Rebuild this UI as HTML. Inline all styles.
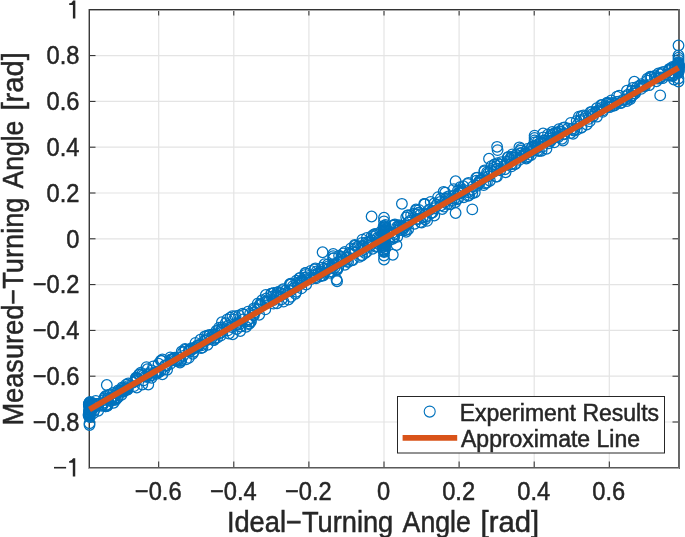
<!DOCTYPE html><html><head><meta charset="utf-8"><style>html,body{margin:0;padding:0;background:#fff;}svg{display:block;will-change:transform}text{font-family:"Liberation Sans",sans-serif;fill:#262626;stroke:#262626;stroke-width:0.5px}</style></head><body><svg width="685" height="537" viewBox="0 0 685 537"><rect width="685" height="537" fill="#fff"/><path d="M158.70 9.5V467.5M233.80 9.5V467.5M308.90 9.5V467.5M384.00 9.5V467.5M459.10 9.5V467.5M534.20 9.5V467.5M609.30 9.5V467.5M89.5 55.60H678.5M89.5 101.40H678.5M89.5 147.20H678.5M89.5 193.00H678.5M89.5 238.80H678.5M89.5 284.60H678.5M89.5 330.40H678.5M89.5 376.20H678.5M89.5 422.00H678.5" stroke="#e4e4e4" stroke-width="1.2" fill="none"/><path d="M158.70 467.5v-6M158.70 9.5v6M233.80 467.5v-6M233.80 9.5v6M308.90 467.5v-6M308.90 9.5v6M384.00 467.5v-6M384.00 9.5v6M459.10 467.5v-6M459.10 9.5v6M534.20 467.5v-6M534.20 9.5v6M609.30 467.5v-6M609.30 9.5v6M89.5 9.80h6M678.5 9.80h-6M89.5 55.60h6M678.5 55.60h-6M89.5 101.40h6M678.5 101.40h-6M89.5 147.20h6M678.5 147.20h-6M89.5 193.00h6M678.5 193.00h-6M89.5 238.80h6M678.5 238.80h-6M89.5 284.60h6M678.5 284.60h-6M89.5 330.40h6M678.5 330.40h-6M89.5 376.20h6M678.5 376.20h-6M89.5 422.00h6M678.5 422.00h-6M89.5 467.80h6M678.5 467.80h-6" stroke="#262626" stroke-width="1" fill="none"/><g shape-rendering="crispEdges"><rect x="89" y="10" width="590" height="1" fill="#aaa"/><rect x="89" y="468" width="591" height="1" fill="#a8a8a8"/><rect x="88" y="9" width="1" height="460" fill="#aaa"/><rect x="679" y="9" width="1" height="460" fill="#6a6a6a"/><rect x="89" y="9" width="590" height="1" fill="#333"/><rect x="89" y="467" width="590" height="1" fill="#5a5a5a"/><rect x="89" y="9" width="1" height="459" fill="#3a3a3a"/><rect x="678" y="9" width="1" height="459" fill="#666"/></g><g fill="none" stroke="#0072BD" stroke-width="1.25"><circle cx="92.3" cy="403.0" r="5.3"/><circle cx="93.2" cy="413.4" r="5.3"/><circle cx="90.3" cy="406.2" r="5.3"/><circle cx="88.5" cy="414.9" r="5.3"/><circle cx="93.3" cy="405.7" r="5.3"/><circle cx="90.3" cy="410.6" r="5.3"/><circle cx="90.0" cy="406.5" r="5.3"/><circle cx="91.5" cy="411.0" r="5.3"/><circle cx="94.5" cy="405.5" r="5.3"/><circle cx="92.2" cy="404.1" r="5.3"/><circle cx="95.8" cy="400.9" r="5.3"/><circle cx="98.2" cy="410.7" r="5.3"/><circle cx="94.7" cy="406.5" r="5.3"/><circle cx="97.3" cy="403.8" r="5.3"/><circle cx="98.3" cy="405.4" r="5.3"/><circle cx="97.5" cy="403.9" r="5.3"/><circle cx="95.7" cy="403.9" r="5.3"/><circle cx="95.7" cy="403.9" r="5.3"/><circle cx="94.5" cy="410.0" r="5.3"/><circle cx="95.4" cy="406.3" r="5.3"/><circle cx="105.8" cy="396.0" r="5.3"/><circle cx="105.6" cy="406.2" r="5.3"/><circle cx="105.0" cy="396.9" r="5.3"/><circle cx="103.7" cy="402.6" r="5.3"/><circle cx="105.7" cy="406.4" r="5.3"/><circle cx="104.1" cy="398.4" r="5.3"/><circle cx="102.8" cy="404.6" r="5.3"/><circle cx="101.4" cy="405.7" r="5.3"/><circle cx="102.8" cy="404.9" r="5.3"/><circle cx="104.0" cy="400.1" r="5.3"/><circle cx="110.3" cy="394.3" r="5.3"/><circle cx="107.4" cy="405.9" r="5.3"/><circle cx="107.9" cy="400.0" r="5.3"/><circle cx="107.1" cy="404.5" r="5.3"/><circle cx="107.8" cy="398.3" r="5.3"/><circle cx="108.3" cy="395.1" r="5.3"/><circle cx="110.5" cy="398.8" r="5.3"/><circle cx="111.6" cy="400.6" r="5.3"/><circle cx="111.9" cy="397.2" r="5.3"/><circle cx="107.4" cy="405.5" r="5.3"/><circle cx="118.1" cy="390.5" r="5.3"/><circle cx="113.6" cy="402.7" r="5.3"/><circle cx="116.3" cy="393.1" r="5.3"/><circle cx="114.8" cy="396.0" r="5.3"/><circle cx="113.9" cy="399.7" r="5.3"/><circle cx="117.8" cy="397.5" r="5.3"/><circle cx="115.8" cy="399.8" r="5.3"/><circle cx="117.0" cy="397.7" r="5.3"/><circle cx="114.7" cy="398.3" r="5.3"/><circle cx="113.2" cy="393.0" r="5.3"/><circle cx="122.4" cy="387.3" r="5.3"/><circle cx="121.6" cy="394.8" r="5.3"/><circle cx="120.6" cy="390.7" r="5.3"/><circle cx="122.6" cy="391.9" r="5.3"/><circle cx="121.6" cy="391.0" r="5.3"/><circle cx="124.0" cy="391.2" r="5.3"/><circle cx="124.1" cy="389.8" r="5.3"/><circle cx="123.0" cy="388.3" r="5.3"/><circle cx="119.3" cy="390.9" r="5.3"/><circle cx="123.4" cy="390.8" r="5.3"/><circle cx="128.3" cy="383.3" r="5.3"/><circle cx="127.6" cy="389.6" r="5.3"/><circle cx="125.9" cy="388.3" r="5.3"/><circle cx="126.7" cy="388.7" r="5.3"/><circle cx="126.6" cy="388.6" r="5.3"/><circle cx="127.9" cy="387.9" r="5.3"/><circle cx="126.1" cy="384.6" r="5.3"/><circle cx="127.2" cy="389.6" r="5.3"/><circle cx="127.6" cy="386.1" r="5.3"/><circle cx="135.9" cy="377.7" r="5.3"/><circle cx="134.0" cy="386.1" r="5.3"/><circle cx="135.8" cy="379.5" r="5.3"/><circle cx="136.0" cy="378.3" r="5.3"/><circle cx="133.1" cy="382.5" r="5.3"/><circle cx="136.2" cy="381.1" r="5.3"/><circle cx="135.3" cy="380.8" r="5.3"/><circle cx="140.8" cy="372.6" r="5.3"/><circle cx="142.3" cy="384.5" r="5.3"/><circle cx="138.9" cy="374.8" r="5.3"/><circle cx="136.8" cy="387.5" r="5.3"/><circle cx="142.0" cy="374.2" r="5.3"/><circle cx="137.2" cy="378.1" r="5.3"/><circle cx="139.4" cy="374.2" r="5.3"/><circle cx="146.5" cy="367.1" r="5.3"/><circle cx="148.3" cy="384.5" r="5.3"/><circle cx="146.3" cy="376.8" r="5.3"/><circle cx="143.6" cy="380.4" r="5.3"/><circle cx="145.0" cy="376.4" r="5.3"/><circle cx="147.4" cy="369.2" r="5.3"/><circle cx="143.2" cy="375.5" r="5.3"/><circle cx="153.3" cy="366.3" r="5.3"/><circle cx="151.6" cy="377.8" r="5.3"/><circle cx="148.8" cy="373.2" r="5.3"/><circle cx="148.6" cy="374.3" r="5.3"/><circle cx="150.0" cy="375.7" r="5.3"/><circle cx="151.9" cy="370.5" r="5.3"/><circle cx="152.0" cy="375.4" r="5.3"/><circle cx="158.6" cy="363.7" r="5.3"/><circle cx="156.4" cy="373.9" r="5.3"/><circle cx="157.7" cy="371.3" r="5.3"/><circle cx="158.4" cy="372.5" r="5.3"/><circle cx="155.6" cy="372.4" r="5.3"/><circle cx="154.7" cy="372.9" r="5.3"/><circle cx="160.3" cy="371.3" r="5.3"/><circle cx="160.8" cy="360.6" r="5.3"/><circle cx="162.4" cy="374.2" r="5.3"/><circle cx="164.3" cy="369.4" r="5.3"/><circle cx="162.4" cy="359.5" r="5.3"/><circle cx="165.3" cy="365.4" r="5.3"/><circle cx="165.1" cy="365.5" r="5.3"/><circle cx="161.7" cy="360.9" r="5.3"/><circle cx="170.3" cy="357.4" r="5.3"/><circle cx="167.1" cy="369.7" r="5.3"/><circle cx="170.3" cy="363.9" r="5.3"/><circle cx="171.3" cy="360.0" r="5.3"/><circle cx="170.8" cy="359.5" r="5.3"/><circle cx="171.9" cy="359.3" r="5.3"/><circle cx="166.7" cy="365.8" r="5.3"/><circle cx="173.8" cy="358.4" r="5.3"/><circle cx="178.2" cy="360.8" r="5.3"/><circle cx="174.0" cy="358.5" r="5.3"/><circle cx="176.4" cy="360.4" r="5.3"/><circle cx="174.8" cy="360.4" r="5.3"/><circle cx="176.5" cy="361.0" r="5.3"/><circle cx="174.8" cy="357.6" r="5.3"/><circle cx="181.7" cy="351.5" r="5.3"/><circle cx="180.0" cy="362.5" r="5.3"/><circle cx="181.2" cy="360.7" r="5.3"/><circle cx="183.0" cy="352.3" r="5.3"/><circle cx="180.3" cy="360.7" r="5.3"/><circle cx="183.1" cy="355.9" r="5.3"/><circle cx="179.3" cy="358.0" r="5.3"/><circle cx="185.0" cy="348.9" r="5.3"/><circle cx="186.1" cy="359.4" r="5.3"/><circle cx="189.5" cy="349.4" r="5.3"/><circle cx="185.6" cy="349.7" r="5.3"/><circle cx="189.8" cy="351.5" r="5.3"/><circle cx="188.8" cy="357.9" r="5.3"/><circle cx="188.9" cy="350.5" r="5.3"/><circle cx="195.5" cy="342.9" r="5.3"/><circle cx="192.7" cy="353.8" r="5.3"/><circle cx="193.6" cy="348.7" r="5.3"/><circle cx="191.6" cy="348.8" r="5.3"/><circle cx="193.7" cy="351.7" r="5.3"/><circle cx="195.9" cy="347.1" r="5.3"/><circle cx="191.6" cy="348.1" r="5.3"/><circle cx="200.4" cy="339.7" r="5.3"/><circle cx="202.5" cy="347.5" r="5.3"/><circle cx="201.6" cy="345.4" r="5.3"/><circle cx="198.9" cy="345.7" r="5.3"/><circle cx="197.6" cy="345.3" r="5.3"/><circle cx="201.0" cy="348.1" r="5.3"/><circle cx="199.2" cy="344.8" r="5.3"/><circle cx="205.0" cy="336.3" r="5.3"/><circle cx="207.6" cy="344.7" r="5.3"/><circle cx="204.8" cy="340.5" r="5.3"/><circle cx="206.8" cy="340.1" r="5.3"/><circle cx="207.5" cy="338.8" r="5.3"/><circle cx="204.8" cy="340.9" r="5.3"/><circle cx="207.1" cy="335.6" r="5.3"/><circle cx="209.4" cy="335.0" r="5.3"/><circle cx="213.5" cy="340.0" r="5.3"/><circle cx="209.2" cy="335.6" r="5.3"/><circle cx="214.4" cy="335.0" r="5.3"/><circle cx="211.9" cy="337.7" r="5.3"/><circle cx="213.0" cy="334.3" r="5.3"/><circle cx="214.0" cy="340.1" r="5.3"/><circle cx="219.1" cy="327.6" r="5.3"/><circle cx="217.3" cy="337.6" r="5.3"/><circle cx="216.4" cy="330.8" r="5.3"/><circle cx="218.8" cy="329.9" r="5.3"/><circle cx="214.8" cy="338.5" r="5.3"/><circle cx="219.8" cy="333.1" r="5.3"/><circle cx="216.0" cy="333.4" r="5.3"/><circle cx="221.9" cy="322.2" r="5.3"/><circle cx="220.7" cy="335.6" r="5.3"/><circle cx="221.2" cy="332.6" r="5.3"/><circle cx="225.7" cy="323.2" r="5.3"/><circle cx="221.6" cy="329.9" r="5.3"/><circle cx="222.1" cy="329.3" r="5.3"/><circle cx="222.2" cy="327.3" r="5.3"/><circle cx="230.3" cy="317.7" r="5.3"/><circle cx="228.9" cy="333.5" r="5.3"/><circle cx="231.7" cy="327.0" r="5.3"/><circle cx="227.3" cy="319.4" r="5.3"/><circle cx="232.4" cy="316.2" r="5.3"/><circle cx="227.9" cy="330.4" r="5.3"/><circle cx="227.7" cy="326.0" r="5.3"/><circle cx="235.5" cy="316.2" r="5.3"/><circle cx="232.7" cy="334.2" r="5.3"/><circle cx="236.1" cy="325.0" r="5.3"/><circle cx="233.9" cy="319.5" r="5.3"/><circle cx="237.8" cy="322.1" r="5.3"/><circle cx="237.5" cy="323.7" r="5.3"/><circle cx="236.7" cy="329.0" r="5.3"/><circle cx="242.6" cy="313.7" r="5.3"/><circle cx="240.3" cy="331.0" r="5.3"/><circle cx="243.0" cy="319.5" r="5.3"/><circle cx="244.0" cy="314.6" r="5.3"/><circle cx="240.5" cy="326.5" r="5.3"/><circle cx="239.4" cy="324.4" r="5.3"/><circle cx="239.0" cy="315.4" r="5.3"/><circle cx="248.0" cy="311.6" r="5.3"/><circle cx="246.2" cy="326.8" r="5.3"/><circle cx="248.7" cy="319.2" r="5.3"/><circle cx="250.2" cy="313.4" r="5.3"/><circle cx="247.0" cy="321.3" r="5.3"/><circle cx="249.5" cy="323.6" r="5.3"/><circle cx="248.5" cy="324.1" r="5.3"/><circle cx="253.8" cy="308.3" r="5.3"/><circle cx="250.9" cy="321.6" r="5.3"/><circle cx="250.6" cy="321.5" r="5.3"/><circle cx="253.3" cy="315.0" r="5.3"/><circle cx="254.8" cy="312.2" r="5.3"/><circle cx="254.9" cy="309.1" r="5.3"/><circle cx="253.9" cy="315.2" r="5.3"/><circle cx="262.1" cy="300.2" r="5.3"/><circle cx="259.2" cy="314.7" r="5.3"/><circle cx="259.8" cy="305.0" r="5.3"/><circle cx="260.1" cy="304.1" r="5.3"/><circle cx="257.7" cy="309.1" r="5.3"/><circle cx="257.7" cy="303.6" r="5.3"/><circle cx="261.0" cy="304.9" r="5.3"/><circle cx="265.8" cy="295.0" r="5.3"/><circle cx="265.3" cy="309.4" r="5.3"/><circle cx="267.4" cy="302.7" r="5.3"/><circle cx="266.4" cy="298.5" r="5.3"/><circle cx="265.8" cy="301.3" r="5.3"/><circle cx="267.0" cy="301.1" r="5.3"/><circle cx="265.3" cy="301.8" r="5.3"/><circle cx="271.5" cy="293.6" r="5.3"/><circle cx="273.5" cy="303.6" r="5.3"/><circle cx="273.6" cy="300.1" r="5.3"/><circle cx="271.2" cy="293.7" r="5.3"/><circle cx="268.7" cy="301.1" r="5.3"/><circle cx="273.7" cy="293.0" r="5.3"/><circle cx="271.8" cy="296.6" r="5.3"/><circle cx="278.6" cy="292.0" r="5.3"/><circle cx="277.0" cy="303.2" r="5.3"/><circle cx="276.3" cy="296.1" r="5.3"/><circle cx="277.1" cy="295.0" r="5.3"/><circle cx="277.2" cy="292.5" r="5.3"/><circle cx="278.0" cy="296.4" r="5.3"/><circle cx="279.8" cy="296.2" r="5.3"/><circle cx="282.1" cy="290.2" r="5.3"/><circle cx="283.5" cy="301.6" r="5.3"/><circle cx="280.9" cy="293.2" r="5.3"/><circle cx="281.7" cy="299.3" r="5.3"/><circle cx="285.5" cy="290.7" r="5.3"/><circle cx="283.3" cy="294.2" r="5.3"/><circle cx="283.2" cy="289.1" r="5.3"/><circle cx="289.8" cy="284.2" r="5.3"/><circle cx="288.4" cy="299.5" r="5.3"/><circle cx="291.1" cy="284.4" r="5.3"/><circle cx="290.9" cy="296.8" r="5.3"/><circle cx="289.2" cy="290.2" r="5.3"/><circle cx="290.6" cy="283.6" r="5.3"/><circle cx="290.4" cy="291.1" r="5.3"/><circle cx="296.3" cy="280.6" r="5.3"/><circle cx="295.4" cy="293.7" r="5.3"/><circle cx="296.3" cy="291.7" r="5.3"/><circle cx="298.3" cy="285.3" r="5.3"/><circle cx="294.3" cy="287.8" r="5.3"/><circle cx="292.9" cy="286.1" r="5.3"/><circle cx="297.1" cy="282.6" r="5.3"/><circle cx="293.7" cy="288.1" r="5.3"/><circle cx="300.4" cy="277.9" r="5.3"/><circle cx="301.4" cy="288.4" r="5.3"/><circle cx="302.4" cy="280.5" r="5.3"/><circle cx="303.1" cy="281.9" r="5.3"/><circle cx="300.6" cy="283.6" r="5.3"/><circle cx="301.1" cy="281.0" r="5.3"/><circle cx="299.4" cy="278.2" r="5.3"/><circle cx="302.3" cy="282.9" r="5.3"/><circle cx="305.3" cy="273.0" r="5.3"/><circle cx="306.2" cy="284.5" r="5.3"/><circle cx="304.7" cy="277.6" r="5.3"/><circle cx="305.5" cy="274.8" r="5.3"/><circle cx="304.6" cy="280.1" r="5.3"/><circle cx="306.1" cy="277.2" r="5.3"/><circle cx="305.6" cy="273.1" r="5.3"/><circle cx="306.9" cy="279.1" r="5.3"/><circle cx="315.4" cy="268.3" r="5.3"/><circle cx="316.0" cy="278.4" r="5.3"/><circle cx="314.5" cy="275.6" r="5.3"/><circle cx="314.5" cy="269.5" r="5.3"/><circle cx="315.1" cy="277.6" r="5.3"/><circle cx="316.2" cy="274.0" r="5.3"/><circle cx="311.2" cy="279.1" r="5.3"/><circle cx="310.7" cy="270.9" r="5.3"/><circle cx="322.0" cy="267.6" r="5.3"/><circle cx="320.2" cy="276.3" r="5.3"/><circle cx="320.6" cy="271.3" r="5.3"/><circle cx="322.2" cy="275.4" r="5.3"/><circle cx="318.5" cy="273.1" r="5.3"/><circle cx="316.6" cy="271.4" r="5.3"/><circle cx="320.7" cy="273.1" r="5.3"/><circle cx="321.6" cy="271.8" r="5.3"/><circle cx="324.5" cy="264.2" r="5.3"/><circle cx="323.3" cy="275.5" r="5.3"/><circle cx="324.3" cy="272.9" r="5.3"/><circle cx="328.1" cy="266.5" r="5.3"/><circle cx="327.9" cy="264.5" r="5.3"/><circle cx="327.6" cy="269.5" r="5.3"/><circle cx="322.5" cy="271.6" r="5.3"/><circle cx="324.0" cy="268.7" r="5.3"/><circle cx="333.3" cy="258.5" r="5.3"/><circle cx="329.8" cy="272.7" r="5.3"/><circle cx="334.1" cy="265.3" r="5.3"/><circle cx="332.7" cy="264.7" r="5.3"/><circle cx="333.4" cy="258.1" r="5.3"/><circle cx="331.6" cy="267.4" r="5.3"/><circle cx="331.8" cy="271.5" r="5.3"/><circle cx="329.0" cy="268.1" r="5.3"/><circle cx="339.1" cy="255.7" r="5.3"/><circle cx="336.4" cy="270.0" r="5.3"/><circle cx="337.2" cy="269.8" r="5.3"/><circle cx="336.3" cy="263.5" r="5.3"/><circle cx="338.3" cy="267.6" r="5.3"/><circle cx="336.8" cy="269.0" r="5.3"/><circle cx="338.7" cy="261.6" r="5.3"/><circle cx="334.7" cy="267.6" r="5.3"/><circle cx="344.8" cy="251.9" r="5.3"/><circle cx="344.9" cy="264.7" r="5.3"/><circle cx="343.3" cy="253.5" r="5.3"/><circle cx="343.2" cy="261.1" r="5.3"/><circle cx="342.3" cy="258.0" r="5.3"/><circle cx="341.8" cy="259.2" r="5.3"/><circle cx="341.5" cy="256.8" r="5.3"/><circle cx="343.3" cy="260.0" r="5.3"/><circle cx="350.9" cy="248.4" r="5.3"/><circle cx="348.1" cy="262.0" r="5.3"/><circle cx="349.5" cy="253.9" r="5.3"/><circle cx="347.2" cy="257.2" r="5.3"/><circle cx="349.3" cy="252.9" r="5.3"/><circle cx="346.9" cy="261.1" r="5.3"/><circle cx="351.7" cy="260.3" r="5.3"/><circle cx="346.5" cy="257.7" r="5.3"/><circle cx="354.7" cy="245.0" r="5.3"/><circle cx="352.9" cy="260.1" r="5.3"/><circle cx="357.4" cy="246.9" r="5.3"/><circle cx="355.2" cy="245.6" r="5.3"/><circle cx="354.4" cy="248.9" r="5.3"/><circle cx="354.9" cy="252.7" r="5.3"/><circle cx="353.0" cy="251.5" r="5.3"/><circle cx="358.2" cy="246.2" r="5.3"/><circle cx="362.4" cy="239.6" r="5.3"/><circle cx="361.9" cy="255.1" r="5.3"/><circle cx="362.0" cy="246.0" r="5.3"/><circle cx="361.8" cy="250.8" r="5.3"/><circle cx="362.0" cy="242.9" r="5.3"/><circle cx="359.5" cy="256.9" r="5.3"/><circle cx="363.4" cy="246.2" r="5.3"/><circle cx="361.8" cy="255.6" r="5.3"/><circle cx="366.9" cy="237.8" r="5.3"/><circle cx="366.7" cy="251.9" r="5.3"/><circle cx="368.6" cy="241.8" r="5.3"/><circle cx="365.1" cy="253.0" r="5.3"/><circle cx="370.0" cy="245.9" r="5.3"/><circle cx="366.0" cy="242.5" r="5.3"/><circle cx="369.6" cy="242.5" r="5.3"/><circle cx="364.8" cy="248.9" r="5.3"/><circle cx="371.7" cy="236.1" r="5.3"/><circle cx="376.0" cy="246.7" r="5.3"/><circle cx="371.5" cy="240.3" r="5.3"/><circle cx="373.6" cy="234.7" r="5.3"/><circle cx="373.1" cy="242.7" r="5.3"/><circle cx="372.6" cy="248.7" r="5.3"/><circle cx="375.0" cy="233.9" r="5.3"/><circle cx="375.3" cy="235.8" r="5.3"/><circle cx="381.2" cy="231.4" r="5.3"/><circle cx="381.7" cy="243.7" r="5.3"/><circle cx="379.2" cy="239.9" r="5.3"/><circle cx="379.5" cy="237.5" r="5.3"/><circle cx="377.3" cy="238.0" r="5.3"/><circle cx="376.8" cy="234.2" r="5.3"/><circle cx="377.3" cy="246.3" r="5.3"/><circle cx="378.6" cy="244.0" r="5.3"/><circle cx="384.2" cy="230.4" r="5.3"/><circle cx="384.5" cy="242.3" r="5.3"/><circle cx="384.0" cy="235.7" r="5.3"/><circle cx="387.0" cy="233.4" r="5.3"/><circle cx="387.8" cy="230.7" r="5.3"/><circle cx="384.4" cy="242.7" r="5.3"/><circle cx="384.0" cy="235.9" r="5.3"/><circle cx="385.1" cy="238.6" r="5.3"/><circle cx="394.1" cy="224.8" r="5.3"/><circle cx="392.8" cy="238.7" r="5.3"/><circle cx="389.3" cy="240.2" r="5.3"/><circle cx="392.7" cy="232.6" r="5.3"/><circle cx="393.9" cy="237.3" r="5.3"/><circle cx="389.1" cy="231.8" r="5.3"/><circle cx="394.1" cy="234.0" r="5.3"/><circle cx="394.0" cy="236.9" r="5.3"/><circle cx="394.9" cy="224.4" r="5.3"/><circle cx="397.3" cy="236.7" r="5.3"/><circle cx="398.9" cy="225.2" r="5.3"/><circle cx="400.5" cy="226.5" r="5.3"/><circle cx="399.4" cy="226.0" r="5.3"/><circle cx="399.2" cy="230.0" r="5.3"/><circle cx="400.5" cy="227.2" r="5.3"/><circle cx="397.2" cy="226.8" r="5.3"/><circle cx="406.2" cy="217.3" r="5.3"/><circle cx="406.1" cy="231.7" r="5.3"/><circle cx="402.7" cy="226.3" r="5.3"/><circle cx="403.3" cy="229.1" r="5.3"/><circle cx="402.8" cy="227.9" r="5.3"/><circle cx="401.3" cy="230.0" r="5.3"/><circle cx="405.0" cy="230.4" r="5.3"/><circle cx="404.5" cy="227.1" r="5.3"/><circle cx="407.9" cy="215.3" r="5.3"/><circle cx="408.2" cy="229.3" r="5.3"/><circle cx="411.1" cy="214.9" r="5.3"/><circle cx="408.4" cy="222.5" r="5.3"/><circle cx="407.6" cy="215.5" r="5.3"/><circle cx="410.7" cy="220.4" r="5.3"/><circle cx="408.3" cy="222.5" r="5.3"/><circle cx="406.7" cy="225.4" r="5.3"/><circle cx="416.0" cy="209.5" r="5.3"/><circle cx="414.6" cy="223.8" r="5.3"/><circle cx="416.0" cy="214.4" r="5.3"/><circle cx="416.7" cy="219.0" r="5.3"/><circle cx="418.3" cy="213.0" r="5.3"/><circle cx="414.0" cy="213.6" r="5.3"/><circle cx="418.4" cy="213.0" r="5.3"/><circle cx="416.1" cy="210.5" r="5.3"/><circle cx="424.2" cy="204.0" r="5.3"/><circle cx="421.6" cy="222.6" r="5.3"/><circle cx="422.7" cy="217.5" r="5.3"/><circle cx="420.5" cy="214.4" r="5.3"/><circle cx="418.7" cy="219.0" r="5.3"/><circle cx="419.0" cy="209.9" r="5.3"/><circle cx="420.5" cy="222.0" r="5.3"/><circle cx="424.7" cy="204.3" r="5.3"/><circle cx="427.1" cy="220.9" r="5.3"/><circle cx="428.8" cy="209.9" r="5.3"/><circle cx="426.0" cy="216.5" r="5.3"/><circle cx="429.9" cy="209.7" r="5.3"/><circle cx="425.1" cy="219.3" r="5.3"/><circle cx="424.7" cy="203.9" r="5.3"/><circle cx="430.7" cy="201.9" r="5.3"/><circle cx="434.3" cy="215.5" r="5.3"/><circle cx="431.4" cy="213.0" r="5.3"/><circle cx="432.5" cy="212.6" r="5.3"/><circle cx="431.0" cy="213.1" r="5.3"/><circle cx="434.6" cy="208.2" r="5.3"/><circle cx="434.2" cy="203.5" r="5.3"/><circle cx="438.1" cy="197.1" r="5.3"/><circle cx="442.2" cy="209.0" r="5.3"/><circle cx="440.3" cy="201.8" r="5.3"/><circle cx="436.6" cy="204.6" r="5.3"/><circle cx="436.9" cy="204.9" r="5.3"/><circle cx="440.7" cy="198.6" r="5.3"/><circle cx="441.2" cy="205.3" r="5.3"/><circle cx="443.6" cy="191.8" r="5.3"/><circle cx="447.6" cy="204.0" r="5.3"/><circle cx="444.0" cy="206.6" r="5.3"/><circle cx="444.9" cy="201.7" r="5.3"/><circle cx="445.5" cy="198.6" r="5.3"/><circle cx="445.2" cy="192.7" r="5.3"/><circle cx="446.8" cy="197.2" r="5.3"/><circle cx="453.7" cy="189.1" r="5.3"/><circle cx="450.4" cy="204.3" r="5.3"/><circle cx="454.1" cy="195.5" r="5.3"/><circle cx="449.1" cy="196.2" r="5.3"/><circle cx="454.4" cy="198.7" r="5.3"/><circle cx="448.8" cy="199.0" r="5.3"/><circle cx="451.5" cy="200.9" r="5.3"/><circle cx="460.2" cy="187.2" r="5.3"/><circle cx="455.2" cy="202.2" r="5.3"/><circle cx="456.9" cy="199.3" r="5.3"/><circle cx="458.2" cy="198.5" r="5.3"/><circle cx="458.0" cy="190.4" r="5.3"/><circle cx="459.4" cy="193.2" r="5.3"/><circle cx="458.7" cy="192.7" r="5.3"/><circle cx="463.3" cy="186.2" r="5.3"/><circle cx="463.7" cy="197.3" r="5.3"/><circle cx="463.1" cy="189.6" r="5.3"/><circle cx="460.8" cy="193.0" r="5.3"/><circle cx="460.6" cy="191.6" r="5.3"/><circle cx="462.8" cy="192.1" r="5.3"/><circle cx="462.3" cy="190.8" r="5.3"/><circle cx="467.5" cy="183.9" r="5.3"/><circle cx="472.3" cy="193.2" r="5.3"/><circle cx="469.3" cy="195.1" r="5.3"/><circle cx="468.2" cy="192.3" r="5.3"/><circle cx="468.2" cy="195.7" r="5.3"/><circle cx="468.5" cy="182.8" r="5.3"/><circle cx="472.1" cy="189.6" r="5.3"/><circle cx="477.3" cy="177.6" r="5.3"/><circle cx="474.8" cy="192.5" r="5.3"/><circle cx="472.9" cy="186.5" r="5.3"/><circle cx="476.2" cy="178.0" r="5.3"/><circle cx="476.5" cy="180.6" r="5.3"/><circle cx="478.4" cy="182.7" r="5.3"/><circle cx="477.3" cy="185.7" r="5.3"/><circle cx="484.3" cy="171.4" r="5.3"/><circle cx="483.7" cy="185.1" r="5.3"/><circle cx="482.2" cy="178.9" r="5.3"/><circle cx="479.7" cy="180.4" r="5.3"/><circle cx="480.2" cy="180.7" r="5.3"/><circle cx="479.3" cy="183.5" r="5.3"/><circle cx="484.0" cy="177.1" r="5.3"/><circle cx="484.6" cy="170.3" r="5.3"/><circle cx="485.3" cy="183.4" r="5.3"/><circle cx="488.0" cy="173.5" r="5.3"/><circle cx="487.1" cy="172.3" r="5.3"/><circle cx="488.5" cy="176.3" r="5.3"/><circle cx="486.9" cy="182.5" r="5.3"/><circle cx="489.9" cy="180.8" r="5.3"/><circle cx="494.8" cy="164.4" r="5.3"/><circle cx="495.9" cy="176.6" r="5.3"/><circle cx="493.5" cy="171.8" r="5.3"/><circle cx="494.5" cy="164.4" r="5.3"/><circle cx="491.3" cy="166.2" r="5.3"/><circle cx="490.7" cy="170.5" r="5.3"/><circle cx="496.3" cy="169.2" r="5.3"/><circle cx="497.5" cy="163.1" r="5.3"/><circle cx="497.0" cy="176.5" r="5.3"/><circle cx="500.1" cy="164.5" r="5.3"/><circle cx="497.2" cy="165.8" r="5.3"/><circle cx="501.3" cy="162.2" r="5.3"/><circle cx="497.3" cy="168.6" r="5.3"/><circle cx="500.3" cy="170.3" r="5.3"/><circle cx="507.7" cy="157.5" r="5.3"/><circle cx="505.6" cy="172.2" r="5.3"/><circle cx="505.9" cy="164.2" r="5.3"/><circle cx="506.9" cy="164.5" r="5.3"/><circle cx="508.5" cy="156.8" r="5.3"/><circle cx="505.0" cy="169.2" r="5.3"/><circle cx="507.2" cy="161.3" r="5.3"/><circle cx="512.3" cy="154.4" r="5.3"/><circle cx="511.6" cy="166.4" r="5.3"/><circle cx="511.3" cy="156.9" r="5.3"/><circle cx="510.2" cy="160.0" r="5.3"/><circle cx="510.4" cy="158.4" r="5.3"/><circle cx="511.0" cy="164.2" r="5.3"/><circle cx="514.2" cy="157.8" r="5.3"/><circle cx="520.5" cy="150.7" r="5.3"/><circle cx="514.9" cy="164.0" r="5.3"/><circle cx="514.8" cy="157.1" r="5.3"/><circle cx="515.6" cy="163.9" r="5.3"/><circle cx="516.3" cy="154.6" r="5.3"/><circle cx="519.4" cy="159.9" r="5.3"/><circle cx="516.5" cy="155.1" r="5.3"/><circle cx="520.5" cy="153.4" r="5.3"/><circle cx="526.3" cy="158.5" r="5.3"/><circle cx="525.7" cy="153.8" r="5.3"/><circle cx="522.3" cy="156.9" r="5.3"/><circle cx="522.2" cy="156.0" r="5.3"/><circle cx="521.0" cy="152.9" r="5.3"/><circle cx="525.0" cy="153.2" r="5.3"/><circle cx="527.4" cy="148.9" r="5.3"/><circle cx="528.3" cy="156.4" r="5.3"/><circle cx="531.0" cy="151.7" r="5.3"/><circle cx="526.9" cy="157.5" r="5.3"/><circle cx="532.4" cy="146.4" r="5.3"/><circle cx="531.1" cy="155.0" r="5.3"/><circle cx="531.7" cy="147.5" r="5.3"/><circle cx="537.8" cy="141.6" r="5.3"/><circle cx="537.7" cy="150.4" r="5.3"/><circle cx="536.8" cy="148.3" r="5.3"/><circle cx="534.1" cy="146.8" r="5.3"/><circle cx="536.0" cy="146.7" r="5.3"/><circle cx="538.1" cy="145.2" r="5.3"/><circle cx="533.7" cy="149.2" r="5.3"/><circle cx="543.4" cy="137.3" r="5.3"/><circle cx="541.6" cy="150.7" r="5.3"/><circle cx="542.4" cy="146.9" r="5.3"/><circle cx="539.0" cy="151.0" r="5.3"/><circle cx="543.8" cy="140.5" r="5.3"/><circle cx="538.8" cy="143.7" r="5.3"/><circle cx="540.8" cy="142.4" r="5.3"/><circle cx="548.0" cy="134.4" r="5.3"/><circle cx="546.5" cy="148.7" r="5.3"/><circle cx="548.2" cy="140.7" r="5.3"/><circle cx="548.7" cy="143.2" r="5.3"/><circle cx="549.4" cy="137.1" r="5.3"/><circle cx="550.3" cy="141.0" r="5.3"/><circle cx="545.3" cy="140.5" r="5.3"/><circle cx="552.3" cy="132.0" r="5.3"/><circle cx="554.2" cy="142.4" r="5.3"/><circle cx="551.0" cy="140.5" r="5.3"/><circle cx="550.9" cy="134.7" r="5.3"/><circle cx="555.8" cy="132.3" r="5.3"/><circle cx="551.3" cy="138.5" r="5.3"/><circle cx="553.4" cy="134.0" r="5.3"/><circle cx="558.9" cy="129.2" r="5.3"/><circle cx="562.0" cy="138.8" r="5.3"/><circle cx="557.5" cy="132.9" r="5.3"/><circle cx="559.5" cy="131.4" r="5.3"/><circle cx="557.0" cy="136.2" r="5.3"/><circle cx="562.0" cy="131.9" r="5.3"/><circle cx="558.1" cy="137.2" r="5.3"/><circle cx="564.4" cy="127.5" r="5.3"/><circle cx="563.0" cy="140.5" r="5.3"/><circle cx="563.0" cy="127.9" r="5.3"/><circle cx="564.3" cy="134.3" r="5.3"/><circle cx="567.9" cy="128.5" r="5.3"/><circle cx="564.0" cy="133.7" r="5.3"/><circle cx="570.8" cy="122.9" r="5.3"/><circle cx="573.1" cy="133.8" r="5.3"/><circle cx="572.7" cy="128.5" r="5.3"/><circle cx="574.3" cy="130.0" r="5.3"/><circle cx="573.7" cy="130.5" r="5.3"/><circle cx="570.7" cy="133.0" r="5.3"/><circle cx="578.9" cy="116.6" r="5.3"/><circle cx="576.8" cy="129.9" r="5.3"/><circle cx="577.9" cy="124.2" r="5.3"/><circle cx="580.2" cy="120.8" r="5.3"/><circle cx="580.5" cy="119.8" r="5.3"/><circle cx="576.7" cy="120.9" r="5.3"/><circle cx="581.3" cy="116.2" r="5.3"/><circle cx="581.6" cy="127.4" r="5.3"/><circle cx="585.8" cy="116.2" r="5.3"/><circle cx="584.5" cy="118.9" r="5.3"/><circle cx="581.1" cy="127.7" r="5.3"/><circle cx="583.5" cy="115.3" r="5.3"/><circle cx="590.4" cy="112.2" r="5.3"/><circle cx="586.8" cy="124.5" r="5.3"/><circle cx="591.9" cy="111.8" r="5.3"/><circle cx="589.7" cy="121.4" r="5.3"/><circle cx="592.1" cy="114.2" r="5.3"/><circle cx="589.0" cy="118.9" r="5.3"/><circle cx="596.8" cy="108.2" r="5.3"/><circle cx="596.9" cy="116.7" r="5.3"/><circle cx="593.0" cy="116.3" r="5.3"/><circle cx="598.3" cy="111.1" r="5.3"/><circle cx="597.1" cy="111.1" r="5.3"/><circle cx="595.3" cy="112.2" r="5.3"/><circle cx="602.2" cy="105.0" r="5.3"/><circle cx="602.6" cy="111.9" r="5.3"/><circle cx="602.8" cy="110.4" r="5.3"/><circle cx="601.0" cy="105.2" r="5.3"/><circle cx="601.5" cy="107.8" r="5.3"/><circle cx="600.0" cy="110.1" r="5.3"/><circle cx="607.1" cy="102.6" r="5.3"/><circle cx="609.5" cy="107.2" r="5.3"/><circle cx="606.6" cy="103.7" r="5.3"/><circle cx="609.9" cy="104.9" r="5.3"/><circle cx="607.8" cy="106.8" r="5.3"/><circle cx="608.4" cy="103.2" r="5.3"/><circle cx="611.3" cy="100.4" r="5.3"/><circle cx="614.5" cy="105.1" r="5.3"/><circle cx="614.3" cy="105.6" r="5.3"/><circle cx="612.5" cy="105.9" r="5.3"/><circle cx="612.1" cy="102.9" r="5.3"/><circle cx="614.6" cy="103.6" r="5.3"/><circle cx="616.9" cy="96.6" r="5.3"/><circle cx="621.4" cy="102.7" r="5.3"/><circle cx="618.4" cy="101.6" r="5.3"/><circle cx="617.0" cy="101.9" r="5.3"/><circle cx="620.0" cy="103.2" r="5.3"/><circle cx="619.2" cy="95.6" r="5.3"/><circle cx="626.9" cy="90.7" r="5.3"/><circle cx="627.0" cy="101.0" r="5.3"/><circle cx="623.0" cy="99.9" r="5.3"/><circle cx="626.2" cy="99.3" r="5.3"/><circle cx="627.8" cy="94.7" r="5.3"/><circle cx="627.1" cy="96.2" r="5.3"/><circle cx="632.7" cy="87.8" r="5.3"/><circle cx="630.4" cy="99.0" r="5.3"/><circle cx="631.7" cy="90.7" r="5.3"/><circle cx="632.3" cy="95.5" r="5.3"/><circle cx="630.8" cy="96.2" r="5.3"/><circle cx="630.6" cy="97.3" r="5.3"/><circle cx="637.3" cy="86.8" r="5.3"/><circle cx="634.6" cy="93.5" r="5.3"/><circle cx="635.8" cy="90.5" r="5.3"/><circle cx="634.9" cy="91.2" r="5.3"/><circle cx="639.9" cy="85.6" r="5.3"/><circle cx="635.1" cy="93.4" r="5.3"/><circle cx="641.3" cy="84.2" r="5.3"/><circle cx="641.2" cy="88.9" r="5.3"/><circle cx="643.5" cy="86.2" r="5.3"/><circle cx="642.4" cy="86.6" r="5.3"/><circle cx="644.8" cy="86.4" r="5.3"/><circle cx="642.7" cy="85.3" r="5.3"/><circle cx="647.3" cy="78.6" r="5.3"/><circle cx="649.1" cy="85.2" r="5.3"/><circle cx="651.4" cy="77.0" r="5.3"/><circle cx="647.3" cy="80.7" r="5.3"/><circle cx="651.4" cy="77.1" r="5.3"/><circle cx="650.2" cy="76.7" r="5.3"/><circle cx="658.4" cy="73.5" r="5.3"/><circle cx="656.4" cy="81.3" r="5.3"/><circle cx="654.7" cy="75.8" r="5.3"/><circle cx="658.1" cy="78.7" r="5.3"/><circle cx="654.9" cy="78.1" r="5.3"/><circle cx="656.7" cy="77.0" r="5.3"/><circle cx="663.3" cy="71.8" r="5.3"/><circle cx="662.5" cy="78.2" r="5.3"/><circle cx="661.3" cy="74.2" r="5.3"/><circle cx="660.9" cy="77.3" r="5.3"/><circle cx="659.6" cy="78.1" r="5.3"/><circle cx="661.3" cy="72.8" r="5.3"/><circle cx="669.3" cy="69.3" r="5.3"/><circle cx="670.2" cy="75.7" r="5.3"/><circle cx="668.4" cy="75.0" r="5.3"/><circle cx="669.4" cy="68.9" r="5.3"/><circle cx="669.0" cy="70.5" r="5.3"/><circle cx="669.5" cy="75.4" r="5.3"/><circle cx="674.5" cy="66.8" r="5.3"/><circle cx="672.5" cy="75.3" r="5.3"/><circle cx="671.4" cy="68.3" r="5.3"/><circle cx="672.7" cy="73.0" r="5.3"/><circle cx="675.6" cy="67.8" r="5.3"/><circle cx="674.6" cy="73.9" r="5.3"/><circle cx="90.0" cy="402.0" r="5.3"/><circle cx="89.5" cy="402.6" r="5.3"/><circle cx="89.1" cy="403.1" r="5.3"/><circle cx="89.4" cy="403.7" r="5.3"/><circle cx="88.8" cy="404.2" r="5.3"/><circle cx="89.0" cy="404.8" r="5.3"/><circle cx="89.5" cy="405.3" r="5.3"/><circle cx="89.2" cy="405.9" r="5.3"/><circle cx="89.5" cy="406.4" r="5.3"/><circle cx="89.5" cy="407.0" r="5.3"/><circle cx="90.1" cy="407.6" r="5.3"/><circle cx="89.9" cy="408.1" r="5.3"/><circle cx="89.5" cy="408.7" r="5.3"/><circle cx="89.9" cy="409.2" r="5.3"/><circle cx="89.3" cy="409.8" r="5.3"/><circle cx="89.4" cy="410.3" r="5.3"/><circle cx="89.8" cy="410.9" r="5.3"/><circle cx="89.1" cy="411.4" r="5.3"/><circle cx="89.4" cy="412.0" r="5.3"/><circle cx="89.1" cy="412.6" r="5.3"/><circle cx="89.5" cy="413.1" r="5.3"/><circle cx="90.0" cy="413.7" r="5.3"/><circle cx="89.3" cy="414.2" r="5.3"/><circle cx="89.6" cy="414.8" r="5.3"/><circle cx="89.2" cy="415.3" r="5.3"/><circle cx="89.2" cy="415.9" r="5.3"/><circle cx="89.1" cy="416.4" r="5.3"/><circle cx="89.9" cy="417.0" r="5.3"/><circle cx="89.5" cy="423.3" r="5.3"/><circle cx="89.5" cy="425.0" r="5.3"/><circle cx="384.0" cy="217.7" r="5.3"/><circle cx="384.0" cy="221.3" r="5.3"/><circle cx="385.4" cy="225.0" r="5.3"/><circle cx="384.3" cy="225.8" r="5.3"/><circle cx="383.6" cy="226.5" r="5.3"/><circle cx="384.4" cy="227.3" r="5.3"/><circle cx="383.8" cy="228.1" r="5.3"/><circle cx="384.5" cy="228.9" r="5.3"/><circle cx="384.2" cy="229.6" r="5.3"/><circle cx="384.2" cy="230.4" r="5.3"/><circle cx="384.4" cy="231.2" r="5.3"/><circle cx="383.7" cy="231.9" r="5.3"/><circle cx="383.8" cy="232.7" r="5.3"/><circle cx="383.0" cy="233.5" r="5.3"/><circle cx="383.7" cy="234.3" r="5.3"/><circle cx="383.1" cy="235.0" r="5.3"/><circle cx="383.9" cy="235.8" r="5.3"/><circle cx="383.4" cy="236.6" r="5.3"/><circle cx="384.1" cy="237.3" r="5.3"/><circle cx="384.3" cy="238.1" r="5.3"/><circle cx="383.1" cy="238.9" r="5.3"/><circle cx="383.5" cy="239.7" r="5.3"/><circle cx="383.4" cy="240.4" r="5.3"/><circle cx="384.4" cy="241.2" r="5.3"/><circle cx="385.0" cy="242.0" r="5.3"/><circle cx="384.5" cy="242.7" r="5.3"/><circle cx="383.8" cy="243.5" r="5.3"/><circle cx="384.9" cy="244.3" r="5.3"/><circle cx="383.1" cy="245.1" r="5.3"/><circle cx="384.9" cy="245.8" r="5.3"/><circle cx="383.6" cy="246.6" r="5.3"/><circle cx="382.3" cy="247.4" r="5.3"/><circle cx="385.6" cy="248.1" r="5.3"/><circle cx="384.9" cy="248.9" r="5.3"/><circle cx="383.4" cy="249.7" r="5.3"/><circle cx="384.1" cy="250.5" r="5.3"/><circle cx="383.9" cy="251.2" r="5.3"/><circle cx="384.1" cy="252.0" r="5.3"/><circle cx="384.0" cy="255.5" r="5.3"/><circle cx="384.0" cy="259.5" r="5.3"/><circle cx="678.5" cy="45.5" r="5.3"/><circle cx="678.5" cy="55.5" r="5.3"/><circle cx="678.5" cy="57.7" r="5.3"/><circle cx="678.5" cy="59.9" r="5.3"/><circle cx="678.5" cy="62.1" r="5.3"/><circle cx="678.1" cy="63.0" r="5.3"/><circle cx="678.3" cy="63.6" r="5.3"/><circle cx="678.6" cy="64.2" r="5.3"/><circle cx="678.6" cy="64.8" r="5.3"/><circle cx="678.9" cy="65.4" r="5.3"/><circle cx="678.5" cy="65.9" r="5.3"/><circle cx="679.2" cy="66.5" r="5.3"/><circle cx="678.3" cy="67.1" r="5.3"/><circle cx="678.6" cy="67.7" r="5.3"/><circle cx="677.9" cy="68.3" r="5.3"/><circle cx="678.1" cy="68.9" r="5.3"/><circle cx="678.9" cy="69.5" r="5.3"/><circle cx="678.2" cy="70.1" r="5.3"/><circle cx="678.7" cy="70.6" r="5.3"/><circle cx="678.5" cy="71.2" r="5.3"/><circle cx="678.2" cy="71.8" r="5.3"/><circle cx="678.4" cy="72.4" r="5.3"/><circle cx="678.3" cy="73.0" r="5.3"/><circle cx="678.5" cy="78.5" r="5.3"/><circle cx="678.5" cy="81.5" r="5.3"/><circle cx="106.8" cy="385.0" r="5.3"/><circle cx="322.6" cy="252.2" r="5.3"/><circle cx="371.6" cy="216.5" r="5.3"/><circle cx="393.5" cy="225.6" r="5.3"/><circle cx="396.5" cy="245.0" r="5.3"/><circle cx="392.8" cy="254.7" r="5.3"/><circle cx="401.9" cy="203.8" r="5.3"/><circle cx="472.3" cy="209.4" r="5.3"/><circle cx="455.6" cy="181.2" r="5.3"/><circle cx="455.6" cy="213.0" r="5.3"/><circle cx="489.0" cy="158.7" r="5.3"/><circle cx="634.3" cy="81.7" r="5.3"/><circle cx="660.2" cy="95.4" r="5.3"/><circle cx="337.1" cy="281.2" r="5.3"/><circle cx="336.5" cy="279.5" r="5.3"/><circle cx="333.2" cy="254.0" r="5.3"/><circle cx="333.2" cy="256.2" r="5.3"/><circle cx="497.1" cy="146.8" r="5.3"/><circle cx="497.6" cy="150.1" r="5.3"/><circle cx="519.4" cy="147.3" r="5.3"/><circle cx="520.8" cy="149.0" r="5.3"/><circle cx="534.6" cy="135.6" r="5.3"/><circle cx="534.6" cy="138.0" r="5.3"/><circle cx="534.6" cy="140.4" r="5.3"/><circle cx="534.6" cy="142.3" r="5.3"/><circle cx="543.1" cy="133.5" r="5.3"/><circle cx="672.5" cy="67.0" r="5.3"/><circle cx="671.5" cy="73.0" r="5.3"/><circle cx="674.0" cy="79.5" r="5.3"/><circle cx="673.0" cy="76.0" r="5.3"/><circle cx="676.0" cy="70.0" r="5.3"/></g><line x1="89.5" y1="409.5" x2="678.5" y2="67.7" stroke="#D95319" stroke-width="5.8"/><text transform="translate(158.20 499.8) scale(0.91,1)" font-size="26" text-anchor="middle">−0.6</text><text transform="translate(233.30 499.8) scale(0.91,1)" font-size="26" text-anchor="middle">−0.4</text><text transform="translate(308.40 499.8) scale(0.91,1)" font-size="26" text-anchor="middle">−0.2</text><text transform="translate(383.50 499.8) scale(0.91,1)" font-size="26" text-anchor="middle">0</text><text transform="translate(458.60 499.8) scale(0.91,1)" font-size="26" text-anchor="middle">0.2</text><text transform="translate(533.70 499.8) scale(0.91,1)" font-size="26" text-anchor="middle">0.4</text><text transform="translate(608.80 499.8) scale(0.91,1)" font-size="26" text-anchor="middle">0.6</text><path d="M72.9 18.6L72.9 4.9L69.2 4.9L69.2 3.3Q72.0 3.2 73.2 0.4L75.35 0.4L75.35 18.6Z" fill="#262626"/><path d="M72.9 18.6L72.9 4.9L69.2 4.9L69.2 3.3Q72.0 3.2 73.2 0.4L75.35 0.4L75.35 18.6Z" fill="#262626" transform="translate(-0.1 457.9)"/><rect x="54" y="466.9" width="12.1" height="1.6" fill="#262626"/><text transform="translate(79.4 64.40) scale(0.91,1)" font-size="26" text-anchor="end">0.8</text><text transform="translate(79.4 110.20) scale(0.91,1)" font-size="26" text-anchor="end">0.6</text><text transform="translate(79.4 156.00) scale(0.91,1)" font-size="26" text-anchor="end">0.4</text><text transform="translate(79.4 201.80) scale(0.91,1)" font-size="26" text-anchor="end">0.2</text><text transform="translate(79.4 247.60) scale(0.91,1)" font-size="26" text-anchor="end">0</text><text transform="translate(79.4 293.40) scale(0.91,1)" font-size="26" text-anchor="end">−0.2</text><text transform="translate(79.4 339.20) scale(0.91,1)" font-size="26" text-anchor="end">−0.4</text><text transform="translate(79.4 385.00) scale(0.91,1)" font-size="26" text-anchor="end">−0.6</text><text transform="translate(79.4 430.80) scale(0.91,1)" font-size="26" text-anchor="end">−0.8</text><text transform="translate(226.9 532) scale(0.94,1)" font-size="29">Ideal−Turning</text><text transform="translate(402.6 532) scale(0.921,1)" font-size="29">Angle</text><text transform="translate(480.6 532) scale(1.009,1)" font-size="29">[rad]</text><text transform="translate(23.3 425.6) rotate(-90) scale(0.938,1)" font-size="29">Measured−Turning</text><text transform="translate(23.3 188.5) rotate(-90) scale(0.914,1)" font-size="29">Angle</text><text transform="translate(23.3 110.5) rotate(-90) scale(1.006,1)" font-size="29">[rad]</text><rect x="397.5" y="396.5" width="267" height="56.5" fill="#fff" stroke="#262626" stroke-width="1"/><circle cx="429.7" cy="411.6" r="5.5" fill="none" stroke="#0072BD" stroke-width="1.1"/><line x1="402.6" y1="437.9" x2="457.2" y2="437.9" stroke="#D95319" stroke-width="5.8"/><text x="459.7" y="421" font-size="23" fill="#000" stroke="#000">Experiment Results</text><text x="461" y="447" font-size="23" fill="#000" stroke="#000">Approximate Line</text></svg></body></html>
